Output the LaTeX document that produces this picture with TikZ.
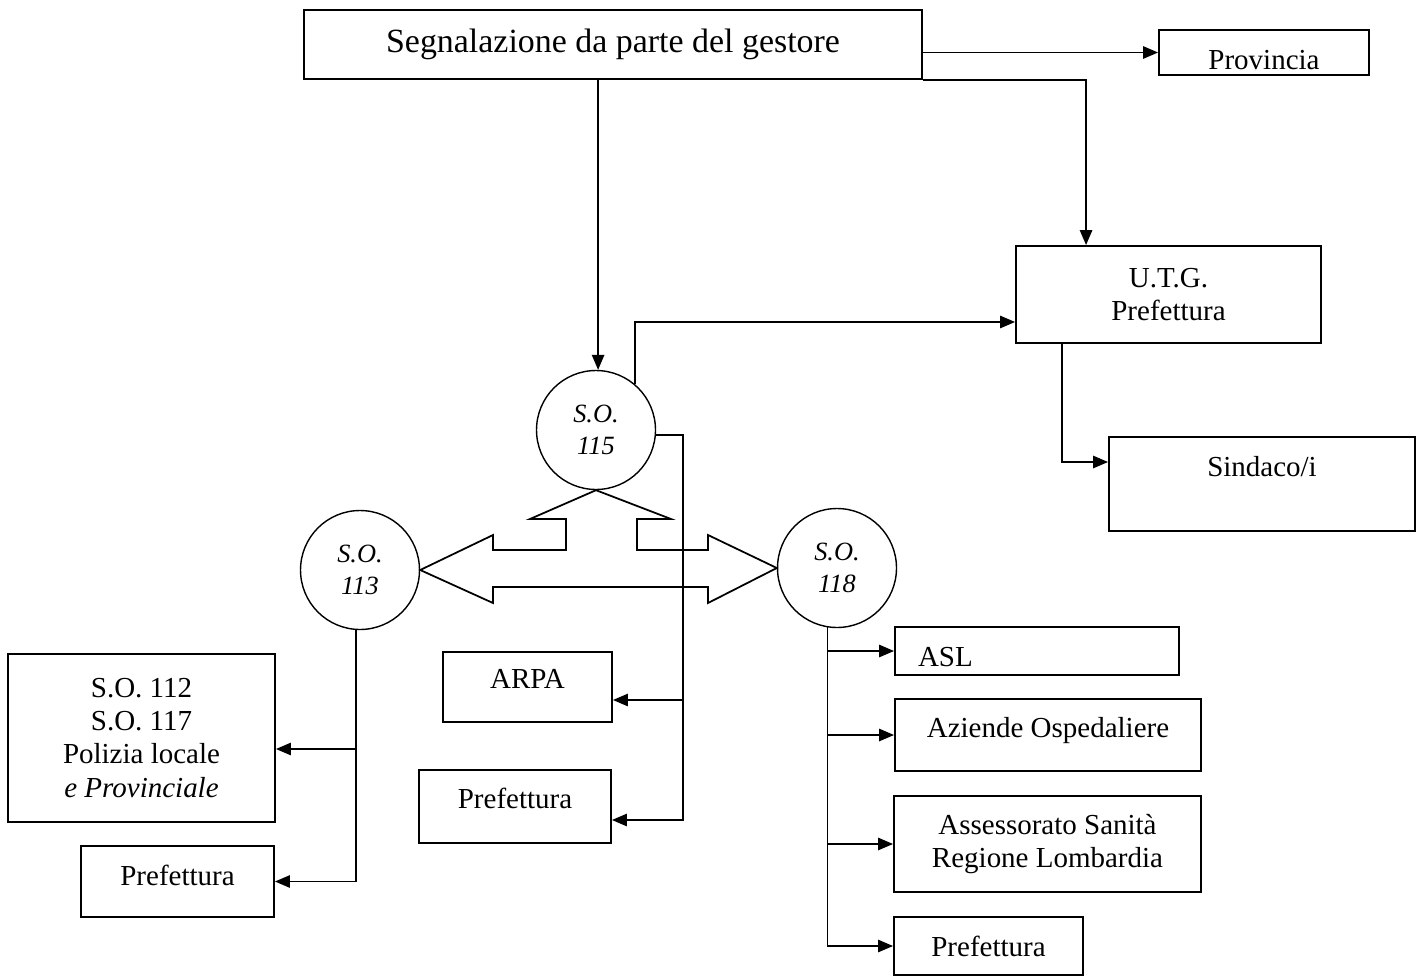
\documentclass[tikz,border=0pt]{standalone}
\usepackage{fontspec}
\setmainfont{Liberation Serif}
\usetikzlibrary{arrows.meta}

\begin{document}
\begin{tikzpicture}[
      x=0.02cm, y=-0.02cm,
      >={Triangle[length=8.5pt,width=7pt]},
      box/.style={draw,line width=1.1pt,inner sep=0pt,align=center,
        font=\fontsize{16.5}{18.8}\selectfont},
      centre/.style={draw,circle,line width=0.8pt,minimum size=2.38cm,inner sep=0pt,
        align=center,font=\fontsize{15}{18.2}\selectfont\itshape},
      link/.style={line width=1pt},
      feed/.style={->,line width=1pt},
      block arrow/.style={line width=1pt,line join=miter}
      ]
      \useasboundingbox (0,0) rectangle (1426,977);
      % nodes
      % gestore
      \node [box,minimum width=12.36cm,minimum height=1.38cm,font=\fontsize{19.3}{22}\selectfont] (gestore) at (613,44.5) {Segnalazione da parte del gestore};
      \node [box,minimum width=4.2cm,minimum height=0.9cm,text height=0.7cm] (provincia) at (1264,52.5) {Provincia};
      \node [box,minimum width=6.1cm,minimum height=1.94cm] (utg) at (1168.5,294.5) {U.T.G.\\Prefettura};
      \node [box,minimum width=6.12cm,minimum height=1.88cm,text depth=0.72cm] (sindaco) at (1262,484) {Sindaco/i};
      % sale operative
      \node [centre] (so115) at (596,430) {S.O.\\115};
      \node [centre] (so113) at (360,570) {S.O.\\113};
      \node [centre] (so118) at (837,568) {S.O.\\118};
      % 115
      \node [box,minimum width=3.38cm,minimum height=1.4cm,text depth=0.32cm] (arpa) at (527.5,687) {ARPA};
      \node [box,minimum width=3.84cm,minimum height=1.46cm,text depth=0.32cm] (pref115) at (515,806.5) {Prefettura};
      % 113
      \node [box,minimum width=5.34cm,minimum height=3.36cm] (polizia) at (141.5,738) {S.O. 112\\S.O. 117\\Polizia locale\\\textit{e Provinciale}};
      \node [box,minimum width=3.86cm,minimum height=1.42cm,text depth=0.26cm] (pref113) at (177.5,881.5) {Prefettura};
      % 118
      \node [box,text width=4.76cm,inner xsep=0.46cm,align=left,minimum height=0.96cm,text height=0.62cm] (asl) at (1037,651) {ASL};
      \node [box,minimum width=6.12cm,minimum height=1.44cm,text depth=0.32cm] (aziende) at (1048,735) {Aziende Ospedaliere};
      \node [box,minimum width=6.14cm,minimum height=1.92cm] (assessorato) at (1047.5,844) {Assessorato Sanità\\Regione Lombardia};
      \node [box,minimum width=3.78cm,minimum height=1.16cm] (pref118) at (988.5,946) {Prefettura};
      % links
      \draw [feed] (gestore.south -| so115.88) -- (so115.88);
      \draw [feed] (gestore.east |- provincia.west) -- (provincia.west);
      \draw [feed] (gestore.south east) -| ([xshift=1.42cm]utg.north west);
      \draw [feed] (so115.50) |- ([yshift=-0.55cm]utg.west);
      \draw [feed] ([xshift=0.94cm]utg.south west) |- ([yshift=0.44cm]sindaco.west);
      % 115
      \coordinate (bus115) at (683,436);
      \coordinate (arpa in) at ([yshift=-0.26cm]arpa.east);
      \coordinate (pref115 in) at ([yshift=-0.27cm]pref115.east);
      \draw [feed] (so115.-5) -| (bus115 |- pref115 in) -- (pref115 in);
      \draw [feed] (bus115 |- arpa in) -- (arpa in);
      % 113
      \coordinate (polizia in) at ([yshift=-0.22cm]polizia.east);
      \draw [feed] (so113.-94) |- (pref113.east);
      \draw [feed] (so113.-94 |- polizia in) -- (polizia in);
      % 118
      \draw [feed] (so118.-99) |- (pref118.west);
      \foreach \n in {asl,aziende,assessorato}
        \draw [feed] (so118.-99 |- \n.west) -- (\n.west);
      % three-way block arrow
      \draw [block arrow] (so115.south) -- (671,519) -- (637,519) -- (637,550) -- (708,550) -- (708,535)
        -- (so118.west) -- (708,603) -- (708,587) -- (493,587) -- (493,603) -- (so113.east)
        -- (493,535) -- (493,550) -- (566,550) -- (566,519) -- (530,519) -- cycle;
    \end{tikzpicture}
\end{document}
